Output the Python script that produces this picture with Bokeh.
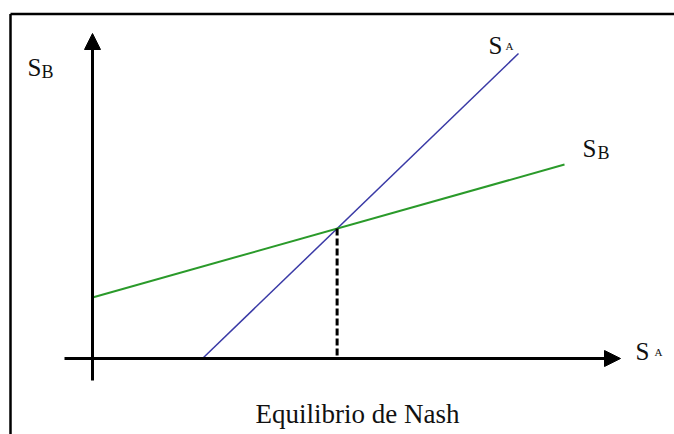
from bokeh.plotting import figure
from bokeh.models import Range1d, Arrow, NormalHead, ColumnDataSource
from bokeh.core.properties import value
from bokeh.embed import file_html
from bokeh.resources import INLINE

# ---- data (abstract strategy space, origin at the axes' crossing) ----
sa_x = [110, 426]          # reaction function S_A
sa_y = [0, 305]
sb_x = [0, 472]            # reaction function S_B
sb_y = [61, 194]
x_axis_extent = [-28, 528]
y_axis_extent = [-22, 325]
caption = "Equilibrio de Nash"

# Nash equilibrium = intersection of both lines
ma = (sa_y[1] - sa_y[0]) / (sa_x[1] - sa_x[0])
mb = (sb_y[1] - sb_y[0]) / (sb_x[1] - sb_x[0])
ba = sa_y[0] - ma * sa_x[0]
bb = sb_y[0] - mb * sb_x[0]
eq_x = (bb - ba) / (ma - mb)
eq_y = ma * eq_x + ba

W, H = 674, 434
p = figure(width=W, height=H, output_backend="svg", toolbar_location=None,
           x_range=Range1d(-92, W - 92), y_range=Range1d(-76, H - 76),
           min_border=0, outline_line_color=None)
p.xaxis.visible = False
p.yaxis.visible = False
p.grid.visible = False

# frame (left and top edges)
left_edge = -82
top_edge = 344.5
p.segment(x0=[left_edge, left_edge], y0=[p.y_range.start, top_edge],
          x1=[left_edge, p.x_range.end], y1=[top_edge, top_edge],
          line_color="black", line_width=2.5)

# axes with arrowheads
p.add_layout(Arrow(x_start=x_axis_extent[0], y_start=0, x_end=x_axis_extent[1], y_end=0,
                   line_width=3, line_color="black",
                   end=NormalHead(size=16, fill_color="black", line_color="black")))
p.add_layout(Arrow(x_start=0, y_start=y_axis_extent[0], x_end=0, y_end=y_axis_extent[1],
                   line_width=3, line_color="black",
                   end=NormalHead(size=16, fill_color="black", line_color="black")))

# reaction functions
p.line(sa_x, sa_y, line_color="#3a3aa6", line_width=1.5)
p.line(sb_x, sb_y, line_color="#2a9a2a", line_width=2)

# dashed drop line
p.line([eq_x, eq_x], [eq_y, 0], line_color="black", line_width=3, line_dash="7 3")

font = value("Liberation Serif")
main = ColumnDataSource(dict(x=[-65, 396, 490, 543], y=[291, 313, 210, 7],
                             t=["S", "S", "S", "S"]))
p.text(x="x", y="y", text="t", source=main, text_font=font, text_font_size="25px",
       text_color="#111111", text_align="left", text_baseline="alphabetic")
subB = ColumnDataSource(dict(x=[-51, 505], y=[287, 206], t=["B", "B"]))
p.text(x="x", y="y", text="t", source=subB, text_font=font, text_font_size="18px",
       text_color="#111111", text_align="left", text_baseline="alphabetic")
subA = ColumnDataSource(dict(x=[413, 562], y=[313, 7], t=["A", "A"]))
p.text(x="x", y="y", text="t", source=subA, text_font=font, text_font_size="11px",
       text_color="#111111", text_align="left", text_baseline="alphabetic")
p.text(x=[163], y=[-55], text=[caption], text_font=font, text_font_size="27px",
       text_color="#111111", text_align="left", text_baseline="alphabetic")

open("out.html", "w").write(file_html(p, INLINE))
